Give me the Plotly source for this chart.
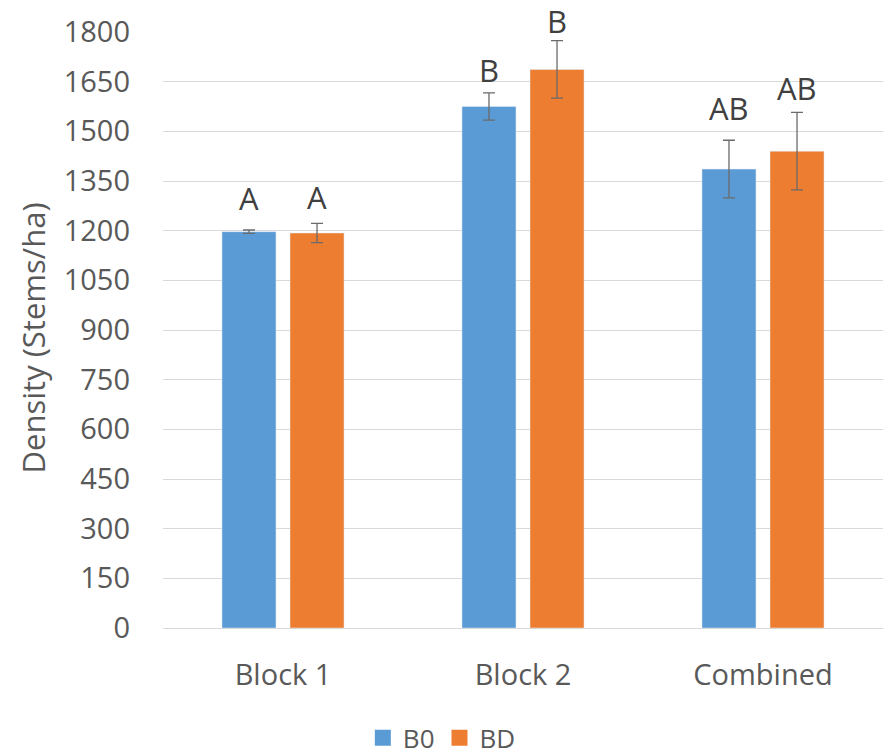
import plotly.graph_objects as go

# Stand density by block and treatment
categories = ["Block 1", "Block 2", "Combined"]
b0_values = [1197, 1575, 1386]
b0_errors = [5, 41, 87]
bd_values = [1193, 1687, 1440]
bd_errors = [29, 87, 117]
b0_letters = ["A", "B", "AB"]
bd_letters = ["A", "B", "AB"]
y_ticks = [0, 150, 300, 450, 600, 750, 900, 1050, 1200, 1350, 1500, 1650, 1800]

BLUE = "#5B9BD5"
ORANGE = "#ED7D31"
FONT = "Open Sans"
TEXT = "#595959"

err_style = dict(type="data", visible=True, color="#6b6b6b", thickness=1.3, width=6)

fig = go.Figure()
fig.add_trace(go.Bar(
    x=categories, y=b0_values, name="B0", marker_color=BLUE,
    error_y=dict(array=b0_errors, **err_style), showlegend=False,
))
fig.add_trace(go.Bar(
    x=categories, y=bd_values, name="BD", marker_color=ORANGE,
    error_y=dict(array=bd_errors, **err_style), showlegend=False,
))

# Legend entries with larger square swatches
for name, color in [("B0", BLUE), ("BD", ORANGE)]:
    fig.add_trace(go.Scatter(
        x=[None], y=[None], mode="markers", name=name,
        marker=dict(symbol="square", size=16, color=color),
    ))

# Significance letters above each bar
b0_shift = [9, 0, 9]
bd_shift = [3, -3, 1]
for i, cat in enumerate(categories):
    for val, err, letter, dx, dy in [
        (b0_values[i], b0_errors[i], b0_letters[i], -34, b0_shift[i]),
        (bd_values[i], bd_errors[i], bd_letters[i], 34, bd_shift[i]),
    ]:
        fig.add_annotation(
            x=cat, y=val + err, text=letter, showarrow=False,
            xshift=dx, yshift=dy, yanchor="bottom",
            font=dict(family=FONT, size=31, color="#404040"),
        )

# Y-axis title
fig.add_annotation(
    text="Density (Stems/ha)", textangle=-90, showarrow=False,
    xref="paper", yref="paper", x=-0.181, y=0.487,
    xanchor="center", yanchor="middle",
    font=dict(family=FONT, size=31, color=TEXT),
)

fig.update_layout(
    width=889, height=756,
    margin=dict(l=163, r=6, t=32, b=128),
    paper_bgcolor="white", plot_bgcolor="white",
    barmode="group", bargap=0.433, bargroupgap=0.206,
    font=dict(family=FONT, color=TEXT),
    legend=dict(
        orientation="h", xref="container", yref="container",
        x=0.497, xanchor="center", y=0.024, yanchor="middle",
        font=dict(family=FONT, size=26, color=TEXT),
        itemwidth=30,
    ),
    xaxis=dict(
        showgrid=False, showline=True, linecolor="#D9D9D9", linewidth=1,
        ticks="", ticklabelstandoff=21,
        tickfont=dict(family=FONT, size=29, color=TEXT),
    ),
    yaxis=dict(
        range=[0, 1800], tickvals=y_ticks,
        showgrid=True, gridcolor="#D9D9D9", gridwidth=1,
        zeroline=True, zerolinecolor="#D9D9D9", zerolinewidth=1,
        showline=False, ticks="", ticklabelstandoff=32,
        tickfont=dict(family=FONT, size=29, color=TEXT),
    ),
)

fig.write_html("out.html")
